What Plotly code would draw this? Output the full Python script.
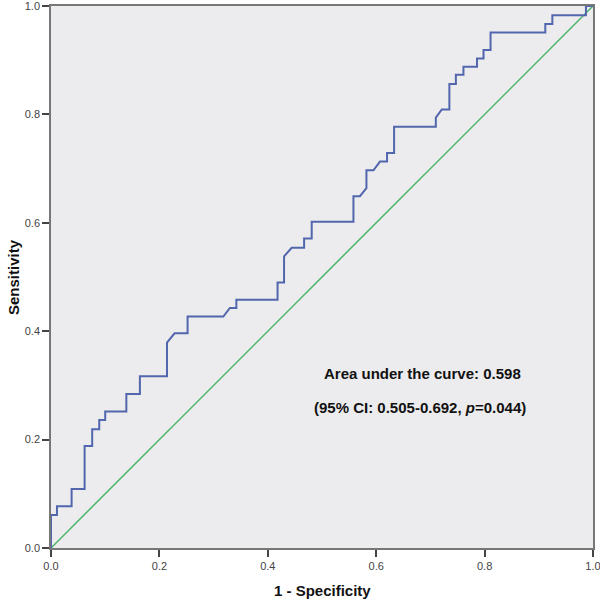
import plotly.graph_objects as go

# ROC curve points (1 - specificity, sensitivity)
fpr = [0.0, 0.0, 0.011, 0.011, 0.038, 0.038, 0.062, 0.062, 0.076, 0.076,
       0.089, 0.089, 0.100, 0.100, 0.139, 0.139, 0.164, 0.164, 0.214, 0.214,
       0.228, 0.252, 0.252, 0.318, 0.330, 0.342, 0.342, 0.418, 0.418, 0.430,
       0.430, 0.444, 0.467, 0.467, 0.481, 0.481, 0.558, 0.558, 0.570, 0.582,
       0.582, 0.595, 0.607, 0.620, 0.620, 0.633, 0.633, 0.710, 0.710, 0.721,
       0.735, 0.735, 0.747, 0.747, 0.761, 0.761, 0.786, 0.786, 0.798, 0.798,
       0.811, 0.811, 0.912, 0.912, 0.925, 0.925, 0.987, 0.987, 1.0]
tpr = [0.0, 0.061, 0.061, 0.077, 0.077, 0.109, 0.109, 0.188, 0.188, 0.219,
       0.219, 0.236, 0.236, 0.252, 0.252, 0.284, 0.284, 0.317, 0.317, 0.379,
       0.396, 0.396, 0.427, 0.427, 0.443, 0.443, 0.458, 0.458, 0.490, 0.490,
       0.538, 0.554, 0.554, 0.571, 0.571, 0.602, 0.602, 0.649, 0.649, 0.664,
       0.697, 0.697, 0.713, 0.713, 0.729, 0.729, 0.777, 0.777, 0.794, 0.809,
       0.809, 0.856, 0.856, 0.873, 0.873, 0.888, 0.888, 0.903, 0.903, 0.919,
       0.919, 0.951, 0.951, 0.967, 0.967, 0.983, 0.983, 1.0, 1.0]

ref_x = [0.0, 1.0]
ref_y = [0.0, 1.0]

tick_vals = [0.0, 0.2, 0.4, 0.6, 0.8, 1.0]
tick_text = ["0.0", "0.2", "0.4", "0.6", "0.8", "1.0"]

x_title = "1 - Specificity"
y_title = "Sensitivity"
auc_line1 = "Area under the curve: 0.598"
auc_line2 = "(95% CI: 0.505-0.692, <i>p</i>=0.044)"

FONT = "Arial, Liberation Sans, sans-serif"
W, H = 600, 601
ML, MR, MT, MB = 51, 7, 6, 53
plot_w = W - ML - MR
plot_h = H - MT - MB

fig = go.Figure()
fig.add_trace(go.Scatter(x=ref_x, y=ref_y, mode="lines",
                         line=dict(color="#4DB56B", width=1.5),
                         showlegend=False, hoverinfo="skip"))
fig.add_trace(go.Scatter(x=fpr, y=tpr, mode="lines",
                         line=dict(color="#5266AE", width=2),
                         showlegend=False))

axis_common = dict(
    range=[0, 1], tickvals=tick_vals, ticktext=tick_text,
    ticks="outside", ticklen=7, tickwidth=1.5, tickcolor="#444",
    showline=True, linecolor="#777", linewidth=1.5, mirror=True,
    showgrid=False, zeroline=False, automargin=False,
    ticklabeloverflow="allow",
    tickfont=dict(family=FONT, size=11, color="#444"),
)

fig.update_layout(
    width=W, height=H,
    margin=dict(l=ML, r=MR, t=MT, b=MB),
    paper_bgcolor="white", plot_bgcolor="#ECECEE",
    xaxis=dict(**axis_common),
    yaxis=dict(**axis_common),
    annotations=[
        dict(x=(322 - ML) / plot_w, y=-(590 - (H - MB)) / plot_h,
             xref="paper", yref="paper", xanchor="center", yanchor="middle",
             text="<b>" + x_title + "</b>", showarrow=False,
             font=dict(family=FONT, size=15, color="#111")),
        dict(x=-(ML - 13) / plot_w, y=((H - MB) - 277) / plot_h,
             xref="paper", yref="paper", xanchor="center", yanchor="middle",
             text="<b>" + y_title + "</b>",
             showarrow=False, textangle=-90,
             font=dict(family=FONT, size=15, color="#111")),
        dict(x=0.685, y=0.322, xref="x", yref="y", text="<b>" + auc_line1 + "</b>",
             showarrow=False, font=dict(family=FONT, size=15, color="#111")),
        dict(x=0.681, y=0.260, xref="x", yref="y", text="<b>" + auc_line2 + "</b>",
             showarrow=False, font=dict(family=FONT, size=15, color="#111")),
    ],
)

fig.write_html("out.html", config={"displayModeBar": False},
               post_script="document.body.style.margin='0';document.body.style.overflow='hidden';")
